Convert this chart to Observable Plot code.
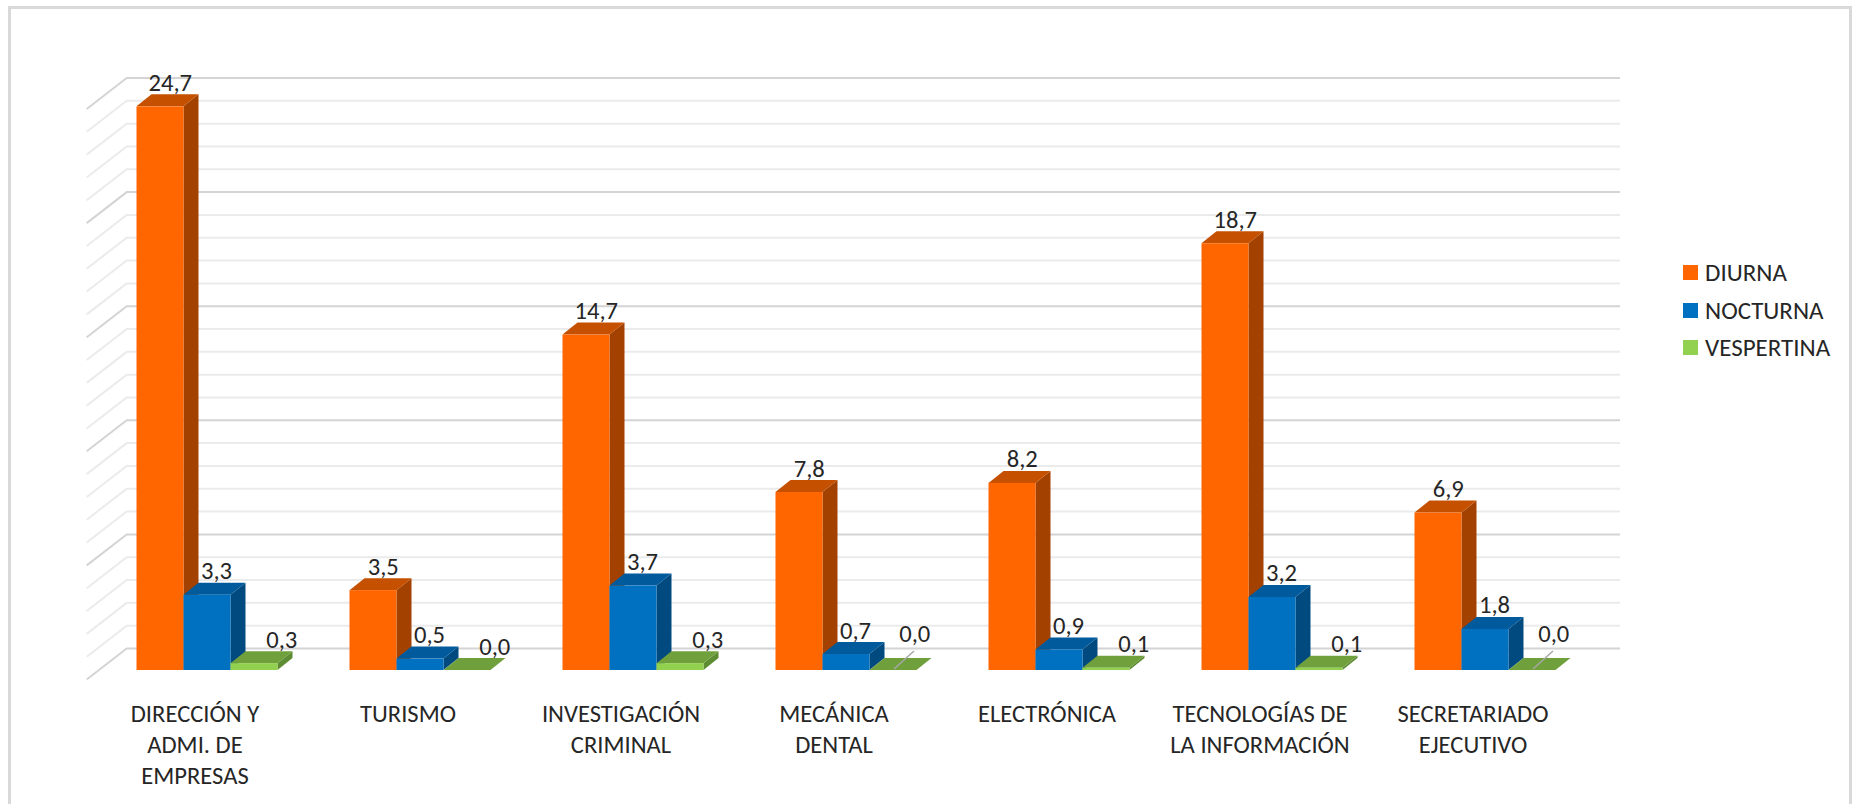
<!DOCTYPE html>
<html>
<head>
<meta charset="utf-8">
<script src="https://cdn.jsdelivr.net/npm/d3@7"></script>
<script src="https://cdn.jsdelivr.net/npm/@observablehq/plot@0.6"></script>
<style>
  html, body { margin: 0; padding: 0; background: #fff; }
  #wrap { position: relative; width: 1857px; height: 804px; overflow: hidden; }
  #border { position: absolute; left: 8px; top: 6px; width: 1844px; height: 900px; border: 3px solid #d9d9d9; box-sizing: border-box; }
  #chart { position: absolute; left: 0; top: 0; }
  #legend { position: absolute; left: 1683px; top: 254px; font-family: Carlito, Calibri, Lato, sans-serif; font-size: 25px; color: #262626; }
  .item { display: flex; align-items: center; height: 37.5px; }
  .sw { width: 15px; height: 15px; margin-right: 7px; flex: none; }
</style>
</head>
<body>
<div id="wrap"><div id="border"></div><div id="chart"></div><div id="legend"></div></div>
<script>
// ---- data ----
const categories = ["DIRECCIÓN Y ADMI. DE EMPRESAS", "TURISMO", "INVESTIGACIÓN CRIMINAL", "MECÁNICA DENTAL", "ELECTRÓNICA", "TECNOLOGÍAS DE LA INFORMACIÓN", "SECRETARIADO EJECUTIVO"];
const categoryLabels = ["DIRECCIÓN Y\nADMI. DE\nEMPRESAS", "TURISMO", "INVESTIGACIÓN\nCRIMINAL", "MECÁNICA\nDENTAL", "ELECTRÓNICA", "TECNOLOGÍAS DE\nLA INFORMACIÓN", "SECRETARIADO\nEJECUTIVO"];
const series = ["DIURNA", "NOCTURNA", "VESPERTINA"];
const diurna = [24.7, 3.5, 14.7, 7.8, 8.2, 18.7, 6.9];
const nocturna = [3.3, 0.5, 3.7, 0.7, 0.9, 3.2, 1.8];
const vespertina = [0.3, 0.0, 0.3, 0.0, 0.1, 0.1, 0.0];
const gridValues = d3.range(0, 26);
const leaderCategories = ["MECÁNICA DENTAL", "SECRETARIADO EJECUTIVO"];

// ---- styles ----
const FONT = "Carlito, Calibri, Lato, sans-serif";
const FS = 24.6;
const TEXT = "#262626";
const colors = {
  DIURNA:     {front: "#FF6600", top: "#C55000", side: "#A34100"},
  NOCTURNA:   {front: "#0070C0", top: "#005A9B", side: "#004A80"},
  VESPERTINA: {front: "#92D050", top: "#70A03C", side: "#5E8C32"}
};
const WALL = [20, 15.5];   // half depth of the walls (px)
const BAR = [7.5, 6];      // half depth of the bars (px)
const labelOffset = [10, 9, 27];  // horizontal shift of value labels per series
const fmt = v => v.toFixed(1).replace(".", ",");

const valuesBySeries = {DIURNA: diurna, NOCTURNA: nocturna, VESPERTINA: vespertina};
const rows = [];
categories.forEach((cat, i) => series.forEach((s, j) => rows.push({cat, series: s, s: j, value: valuesBySeries[s][i]})));
const isLeader = d => d.series === "VESPERTINA" && leaderCategories.includes(d.cat);

const bwOf = x => (typeof x.bandwidth === "function" ? x.bandwidth() : x.bandwidth);

function drawWalls(index, scales, vals, dims) {
  const g = d3.create("svg:g").attr("fill", "none").attr("stroke-width", 2);
  const xl = dims.marginLeft, xr = dims.width - dims.marginRight;
  const [wx, wy] = WALL;
  const order = Array.from(index).sort((a, b) => (gridValues[a] % 5 === 0) - (gridValues[b] % 5 === 0));
  for (const i of order) {
    const v = gridValues[i], y = scales.y(v);
    g.append("path")
      .attr("stroke", v % 5 === 0 ? "#d4d4d4" : "#ebebeb")
      .attr("d", `M${xl - wx},${y + wy}L${xl + wx},${y - wy}H${xr + wx}`);
  }
  return g.node();
}

function drawBars(index, scales, vals, dims) {
  const g = d3.create("svg:g");
  const w = bwOf(scales.x) / series.length;
  const [bx, by] = BAR;
  const y0 = scales.y(0);
  for (const i of index) {
    const d = rows[i], c = colors[d.series];
    const xa = scales.x(d.cat) + d.s * w, xb = xa + w, yt = scales.y(d.value);
    g.append("path").attr("fill", c.side)
      .attr("d", `M${xb - bx},${yt + by}L${xb + bx},${yt - by}V${y0 - by}L${xb - bx},${y0 + by}Z`);
    g.append("path").attr("fill", c.top)
      .attr("d", `M${xa - bx},${yt + by}H${xb - bx}L${xb + bx},${yt - by}H${xa + bx}Z`);
    g.append("rect").attr("fill", c.front)
      .attr("x", xa - bx).attr("y", yt + by).attr("width", w).attr("height", Math.max(0, y0 - yt));
    if (isLeader(d)) {
      const fx = xa - bx + w / 2, fy = yt + by;
      g.append("line").attr("stroke", "#a6a6a6").attr("stroke-width", 1.5)
        .attr("x1", fx + 1).attr("y1", fy - 1).attr("x2", fx + 21).attr("y2", fy - 19);
    }
  }
  return g.node();
}

const marks = [
  Plot.ruleY(gridValues, {y: d => d, render: drawWalls}),
  Plot.barY(rows, {x: "cat", y1: 0, y2: "value", render: drawBars})
];
// value labels, one mark per series (horizontal offset depends on the bar position in its group)
series.forEach((s, j) => {
  const w = 141.6 / 3;
  marks.push(Plot.text(rows.filter(d => d.s === j && !isLeader(d)), {
    x: "cat", y: "value", text: d => fmt(d.value),
    dx: (j - 1) * w - BAR[0] + labelOffset[j], dy: -10,
    lineAnchor: "bottom", textAnchor: "middle", fontSize: FS, fill: TEXT
  }));
});
marks.push(Plot.text(rows.filter(isLeader), {
  x: "cat", y: "value", text: d => fmt(d.value),
  dx: 141.6 / 3 - BAR[0] + 21, dy: -23,
  lineAnchor: "bottom", textAnchor: "middle", fontSize: FS, fill: TEXT
}));
// category labels on the front edge of the floor
marks.push(Plot.text(categories, {
  x: d => d, text: (d, i) => categoryLabels[i],
  frameAnchor: "bottom", dx: -WALL[0], dy: 35.5,
  lineAnchor: "top", lineHeight: 1.26, textAnchor: "middle", fontSize: FS, fill: TEXT
}));

const chart = Plot.plot({
  width: 1857,
  height: 804,
  marginLeft: 106.7,
  marginRight: 257,
  marginTop: 93.5,
  marginBottom: 140,
  style: {fontFamily: FONT, background: "transparent", overflow: "visible"},
  x: {type: "band", domain: categories, paddingInner: 0.336, paddingOuter: 0.168, axis: null},
  y: {domain: [0, 25], axis: null},
  marks
});
document.getElementById("chart").append(chart);

// legend
const legend = d3.select("#legend");
series.forEach(s => {
  const it = legend.append("div").attr("class", "item");
  it.append("div").attr("class", "sw").style("background", colors[s].front);
  it.append("span").text(s);
});
</script>
</body>
</html>
